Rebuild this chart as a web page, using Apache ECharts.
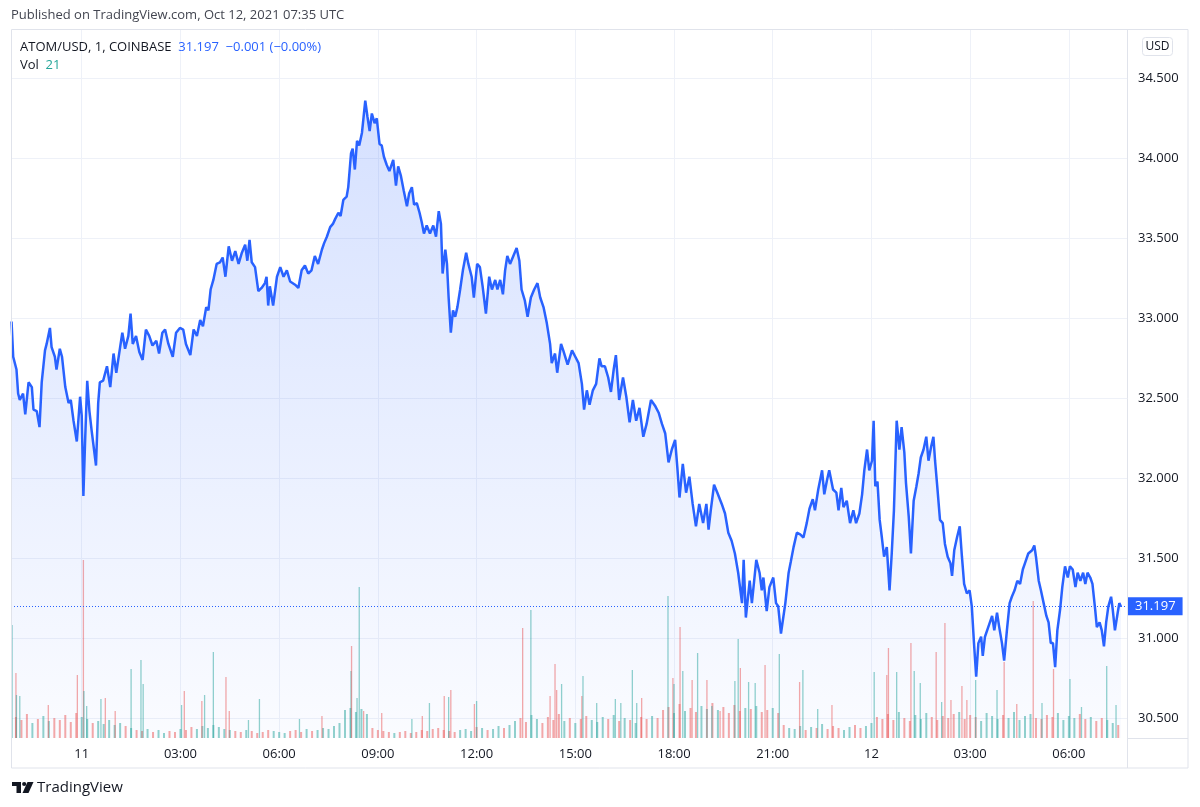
<!DOCTYPE html>
<html><head><meta charset="utf-8">
<script src="https://cdn.jsdelivr.net/npm/echarts@6/dist/echarts.min.js"></script>
<style>html,body{margin:0;padding:0;background:#fff;}#chart{width:1200px;height:807px;}</style>
</head><body><div id="chart"></div>
<script>
// ---- DATA (minutes from 2021-10-11 00:00 UTC, price in USD) ----
const pricePoints = [
[-128,32.98],[-125,32.76],[-119,32.68],[-116,32.53],[-113,32.49],[-107,32.53],[-103,32.40],[-97,32.60],[-91,32.57],[-88,32.43],
[-82,32.42],[-77,32.32],[-73,32.60],[-67,32.80],[-64,32.84],[-58,32.94],[-55,32.82],[-49,32.76],[-46,32.68],[-40,32.81],
[-36,32.76],[-30,32.57],[-24,32.47],[-20,32.49],[-15,32.36],[-9,32.23],[-3,32.51],[0,32.39],[3,31.89],[6,32.22],
[10,32.61],[14,32.42],[18,32.30],[26,32.08],[30,32.47],[33,32.60],[39,32.61],[46,32.70],[52,32.57],[58,32.78],
[63,32.66],[70,32.82],[74,32.91],[79,32.81],[85,32.89],[89,33.03],[93,32.84],[99,32.89],[105,32.79],[111,32.74],
[117,32.93],[123,32.89],[129,32.83],[136,32.86],[141,32.78],[147,32.91],[152,32.93],[158,32.84],[166,32.76],[172,32.91],
[179,32.94],[185,32.93],[190,32.84],[198,32.77],[204,32.93],[210,32.89],[216,32.99],[221,32.95],[227,33.07],[231,33.05],
[235,33.18],[240,33.24],[246,33.34],[252,33.35],[257,33.38],[262,33.26],[268,33.45],[274,33.36],[280,33.42],[286,33.34],
[292,33.41],[298,33.46],[302,33.36],[306,33.49],[310,33.35],[316,33.32],[322,33.17],[328,33.19],[334,33.22],[337,33.26],
[340,33.08],[343,33.20],[349,33.08],[356,33.26],[362,33.32],[368,33.26],[374,33.30],[380,33.23],[389,33.21],[395,33.19],
[401,33.30],[407,33.33],[413,33.28],[419,33.30],[425,33.39],[431,33.34],[438,33.43],[442,33.47],[447,33.51],[453,33.57],
[458,33.59],[462,33.62],[468,33.66],[472,33.64],[477,33.74],[483,33.76],[486,33.82],[491,34.03],[494,34.06],[498,33.93],
[502,34.11],[506,34.08],[511,34.16],[514,34.26],[517,34.36],[521,34.26],[525,34.17],[529,34.28],[534,34.22],[538,34.25],
[543,34.09],[547,34.08],[551,34.01],[556,33.96],[561,33.92],[568,33.99],[573,33.83],[577,33.95],[582,33.89],[587,33.80],
[593,33.70],[597,33.78],[602,33.82],[606,33.71],[611,33.72],[616,33.66],[620,33.60],[624,33.53],[629,33.58],[635,33.53],
[641,33.58],[646,33.51],[651,33.67],[655,33.59],[658,33.28],[663,33.43],[666,33.34],[669,33.13],[673,32.91],[677,33.05],
[681,33.01],[685,33.07],[690,33.18],[695,33.30],[701,33.41],[705,33.34],[711,33.26],[715,33.13],[721,33.34],[726,33.32],
[731,33.20],[737,33.03],[743,33.26],[748,33.18],[754,33.24],[758,33.18],[763,33.24],[768,33.15],[772,33.30],[776,33.39],
[781,33.34],[787,33.39],[793,33.44],[798,33.36],[802,33.18],[808,33.11],[813,33.01],[819,33.13],[825,33.18],[831,33.22],
[836,33.13],[842,33.07],[848,32.97],[854,32.84],[857,32.72],[863,32.78],[867,32.66],[874,32.84],[878,32.80],[886,32.71],
[894,32.80],[900,32.76],[906,32.72],[912,32.59],[916,32.43],[921,32.55],[926,32.46],[932,32.55],[938,32.59],[944,32.75],
[948,32.70],[954,32.70],[960,32.63],[965,32.54],[970,32.68],[974,32.77],[980,32.49],[987,32.63],[993,32.51],[999,32.35],
[1005,32.49],[1011,32.36],[1017,32.44],[1024,32.26],[1030,32.34],[1038,32.49],[1046,32.45],[1052,32.41],[1058,32.34],[1064,32.28],
[1070,32.10],[1076,32.18],[1082,32.24],[1086,32.07],[1090,31.88],[1096,32.09],[1102,31.91],[1108,32.01],[1114,31.84],[1120,31.70],
[1126,31.84],[1133,31.72],[1139,31.84],[1143,31.68],[1147,31.80],[1153,31.96],[1159,31.91],[1167,31.84],[1173,31.78],[1179,31.66],
[1185,31.61],[1191,31.53],[1197,31.41],[1204,31.22],[1207,31.49],[1211,31.13],[1218,31.36],[1222,31.22],[1230,31.49],[1236,31.41],
[1240,31.30],[1243,31.38],[1249,31.17],[1254,31.32],[1261,31.38],[1266,31.22],[1270,31.20],[1275,31.03],[1283,31.22],[1289,31.41],
[1293,31.48],[1298,31.57],[1304,31.66],[1310,31.65],[1316,31.63],[1322,31.72],[1327,31.81],[1333,31.87],[1337,31.80],[1343,31.93],
[1350,32.05],[1354,31.90],[1359,31.99],[1363,32.05],[1370,31.93],[1376,31.91],[1380,31.80],[1385,31.94],[1389,31.82],[1395,31.86],
[1401,31.72],[1407,31.80],[1412,31.72],[1418,31.78],[1423,31.90],[1427,32.05],[1432,32.18],[1436,32.05],[1441,32.11],[1444,32.36],
[1447,31.95],[1451,31.98],[1455,31.74],[1459,31.63],[1463,31.51],[1468,31.57],[1473,31.30],[1477,31.53],[1481,31.80],[1486,32.36],
[1491,32.18],[1495,32.32],[1500,32.16],[1503,31.97],[1508,31.76],[1512,31.53],[1517,31.86],[1522,31.95],[1526,32.03],[1530,32.13],
[1535,32.18],[1540,32.26],[1544,32.11],[1549,32.20],[1553,32.26],[1556,32.11],[1560,31.95],[1565,31.74],[1570,31.72],[1574,31.59],
[1579,31.51],[1584,31.47],[1587,31.39],[1591,31.55],[1596,31.63],[1601,31.70],[1605,31.51],[1609,31.34],[1614,31.28],[1619,31.30],
[1623,31.20],[1627,30.97],[1631,30.76],[1635,30.97],[1640,31.01],[1643,30.89],[1647,31.01],[1653,31.07],[1660,31.14],[1664,31.05],
[1669,31.16],[1673,31.07],[1678,30.97],[1682,30.86],[1687,31.05],[1692,31.22],[1696,31.26],[1701,31.30],[1706,31.36],[1711,31.34],
[1716,31.43],[1720,31.47],[1726,31.53],[1733,31.55],[1737,31.58],[1740,31.51],[1745,31.36],[1749,31.30],[1754,31.22],[1759,31.14],
[1763,31.10],[1767,30.97],[1771,30.97],[1775,30.82],[1779,31.05],[1784,31.18],[1788,31.32],[1793,31.45],[1798,31.38],[1802,31.45],
[1807,31.43],[1812,31.32],[1816,31.41],[1821,31.36],[1826,31.41],[1830,31.34],[1834,31.41],[1839,31.38],[1843,31.34],[1848,31.18],
[1851,31.07],[1856,31.10],[1860,31.05],[1864,30.95],[1868,31.10],[1872,31.20],[1877,31.26],[1880,31.18],[1884,31.05],[1889,31.16],
[1892,31.22],[1895,31.197]
];
const lastPriceText = '31.197';
const lastChangeText = '\u22120.001 (\u22120.00%)';
const lastVolumeText = '21';

const timeTickMinutes = [0,180,360,540,720,900,1080,1260,1440,1620,1800];
const timeTickLabels = ['11','03:00','06:00','09:00','12:00','15:00','18:00','21:00','12','03:00','06:00'];
const priceTicks = [30.5,31,31.5,32,32.5,33,33.5,34,34.5];

// background volume, one value per 10-minute slot starting at -120
const volBaseStart = -120;
const volBaseStep = 10;
const volBaseValues = [
420,360,480,300,380,440,340,400,360,460,320,500,420,
380,300,340,280,360,260,300,240,
200,160,140,180,120,160,100,140,120,180,160,220,180,240,200,260,220,180,160,140,120,160,140,100,120,160,140,120,100,140,160,120,180,140,160,200,180,240,300,
560,600,520,580,480,
200,160,140,120,100,120,140,100,120,160,140,180,200,160,140,120,160,180,140,220,200,160,180,240,200,260,
340,400,320,460,380,300,420,360,480,340,400,300,380,440,360,320,420,380,460,340,400,360,300,420,380,440,400,
560,620,500,680,540,600,520,640,580,700,560,620,500,660,540,600,580,640,520,560,600,500,
260,200,180,240,160,220,200,280,180,240,200,160,220,260,200,240,300,
420,380,480,360,520,400,340,460,380,500,420,360,440,400,480,520,380,460,420,340,500,440,380,460,400,520,360,440,480,400,380,460,420,500,360,440,400,480,380,420,340,400,360,300,260
];
// individual tall volume bars: [minute, volume, direction u/d]
const volSpikes = [
[-127,2260,'u'],[-120,1300,'d'],[-119,860,'u'],[-113,840,'u'],[-61,660,'d'],[-8,1260,'d'],[3,3560,'d'],[4,940,'u'],[9,640,'u'],
[35,780,'u'],[43,800,'d'],[61,540,'d'],[90,1380,'u'],[108,1560,'u'],[112,1080,'u'],[182,660,'u'],[187,940,'d'],[219,740,'d'],
[224,860,'u'],[240,1720,'u'],[263,1220,'d'],[269,540,'d'],[304,360,'u'],[324,780,'u'],[397,380,'u'],[438,440,'d'],[491,1340,'u'],
[492,1840,'d'],[502,800,'u'],[506,3020,'u'],[514,540,'d'],[547,500,'d'],[602,380,'u'],[621,440,'d'],[634,700,'u'],[661,840,'d'],
[669,820,'u'],[673,960,'d'],[716,680,'d'],[720,740,'u'],[804,2200,'d'],[819,2560,'u'],[854,840,'d'],[863,1480,'d'],[866,960,'d'],
[875,1080,'u'],[912,840,'d'],[914,1240,'u'],[939,700,'u'],[973,780,'u'],[983,700,'u'],[1004,1360,'u'],[1012,700,'u'],[1021,800,'d'],
[1069,2840,'u'],[1078,1200,'d'],[1080,1080,'u'],[1091,2220,'d'],[1096,1340,'u'],[1113,1160,'d'],[1123,1700,'u'],[1140,1160,'d'],
[1149,640,'u'],[1164,540,'d'],[1191,1140,'u'],[1197,1980,'u'],[1201,1400,'d'],[1216,1120,'u'],[1228,1100,'u'],[1246,1460,'d'],
[1272,1680,'u'],[1309,1120,'d'],[1315,1360,'u'],[1342,580,'u'],[1368,660,'d'],[1445,1320,'u'],[1468,1260,'d'],[1471,1800,'d'],
[1486,1320,'u'],[1512,1900,'d'],[1518,1340,'u'],[1529,1100,'u'],[1558,1720,'d'],[1568,720,'u'],[1574,2300,'d'],[1585,760,'d'],
[1605,1040,'d'],[1614,760,'d'],[1630,1160,'u'],[1669,960,'u'],[1682,1520,'d'],[1705,680,'d'],[1735,2740,'d'],[1751,700,'u'],
[1772,1380,'d'],[1802,1180,'u'],[1823,620,'u'],[1869,1440,'u'],[1886,660,'u']
];

// ---- CHART ----
const FONT = '"Open Sans", "DejaVu Sans", sans-serif';
const X_MIN = -129, X_MAX = 1906;
const Y_MIN = 30.377, Y_MAX = 34.802;
const UP = 'rgba(38,166,154,0.5)', DOWN = 'rgba(239,83,80,0.5)';
const LINE_BLUE = '#2962ff';

function priceAt(t){
  let p = pricePoints[0][1];
  for (const pt of pricePoints){ if (pt[0] <= t) p = pt[1]; else break; }
  return p;
}
const baseBars = volBaseValues.map((v,i)=>{
  const t = volBaseStart + i*volBaseStep;
  return {value:[t,v], itemStyle:{color: priceAt(t) >= priceAt(t - volBaseStep) ? UP : DOWN}};
});
const spikeBars = volSpikes.map(s=>({value:[s[0],s[1]], itemStyle:{color: s[2]==='u'?UP:DOWN}}));

const gridLines = [];
priceTicks.forEach(v=>gridLines.push({coords:[[X_MIN,v],[X_MAX,v]]}));
timeTickMinutes.forEach(m=>gridLines.push({coords:[[m,Y_MIN],[m,Y_MAX]]}));

const chart = echarts.init(document.getElementById('chart'));
chart.setOption({
  animation:false,
  backgroundColor:'#ffffff',
  grid:[
    {left:11,right:73,top:30,bottom:69},
    {left:11,right:73,top:538,bottom:69},
    {left:11,right:73,top:538,bottom:69}
  ],
  xAxis:[
    {type:'value',gridIndex:0,min:X_MIN,max:X_MAX,axisLine:{show:false},axisTick:{show:false},splitLine:{show:false},
     axisLabel:{customValues:timeTickMinutes,formatter:v=>{const i=timeTickMinutes.indexOf(v);return i>=0?timeTickLabels[i]:'';},
       color:'#131722',fontSize:13,fontFamily:FONT,margin:10}},
    {type:'value',gridIndex:1,min:X_MIN,max:X_MAX,show:false},
    {type:'value',gridIndex:2,min:X_MIN,max:X_MAX,show:false}
  ],
  yAxis:[
    {type:'value',gridIndex:0,position:'right',min:Y_MIN,max:Y_MAX,axisLine:{show:false},axisTick:{show:false},splitLine:{show:false},
     axisLabel:{customValues:priceTicks,formatter:v=>Number(v).toFixed(3),color:'#131722',fontSize:13,fontFamily:FONT,margin:11}},
    {type:'value',gridIndex:1,min:0,max:4000,show:false},
    {type:'value',gridIndex:2,min:0,max:4000,show:false}
  ],
  series:[
    {type:'lines',coordinateSystem:'cartesian2d',xAxisIndex:0,yAxisIndex:0,z:0,silent:true,
     lineStyle:{color:'#eef1f8',width:1,opacity:1},data:gridLines},
    {type:'bar',xAxisIndex:1,yAxisIndex:1,barWidth:2,z:1,silent:true,data:baseBars},
    {type:'bar',xAxisIndex:2,yAxisIndex:2,barWidth:1.3,z:1,silent:true,data:spikeBars},
    {type:'line',xAxisIndex:0,yAxisIndex:0,z:3,data:pricePoints,showSymbol:false,symbol:'none',
     lineStyle:{color:LINE_BLUE,width:2.5},
     areaStyle:{origin:'start',color:new echarts.graphic.LinearGradient(0,0,0,1,[
       {offset:0,color:'rgba(41,98,255,0.28)'},{offset:1,color:'rgba(41,98,255,0.03)'}])},
     markLine:{silent:true,symbol:['none','none'],animation:false,
       lineStyle:{color:LINE_BLUE,type:[1,2],width:1},
       label:{show:true,position:'end',distance:1,formatter:lastPriceText,color:'#ffffff',backgroundColor:LINE_BLUE,
         fontSize:13,fontFamily:FONT,padding:[3,7,2,7]},
       data:[{yAxis:31.197}]}}
  ],
  graphic:[
    {type:'text',left:11,top:9,style:{text:'Published on TradingView.com, Oct 12, 2021 07:35 UTC',fill:'#434651',font:'13px '+FONT}},
    {type:'rect',shape:{x:11.5,y:29.5,width:1176.5,height:738.5},style:{fill:null,stroke:'#e0e3eb',lineWidth:1},silent:true,z:10},
    {type:'line',shape:{x1:1127.5,y1:29.5,x2:1127.5,y2:768},style:{stroke:'#e0e3eb',lineWidth:1},silent:true,z:10},
    {type:'line',shape:{x1:1127.5,y1:738.5,x2:1188,y2:738.5},style:{stroke:'#e0e3eb',lineWidth:1},silent:true,z:10},
    {type:'text',x:20,y:47,style:{text:'{a|ATOM/USD, 1, COINBASE}  {b|'+lastPriceText+'  '+lastChangeText+'}',
      verticalAlign:'middle',rich:{a:{fill:'#131722',font:'13px '+FONT},b:{fill:LINE_BLUE,font:'13px '+FONT}}},z:10},
    {type:'text',x:20,y:65,style:{text:'{a|Vol}  {b|'+lastVolumeText+'}',verticalAlign:'middle',
      rich:{a:{fill:'#131722',font:'13px '+FONT},b:{fill:'#26a69a',font:'13px '+FONT}}},z:10},
    {type:'rect',shape:{x:1142.5,y:37.5,width:30,height:18,r:3},style:{fill:'#ffffff',stroke:'#e0e3eb',lineWidth:1},z:10},
    {type:'text',x:1157.5,y:47,style:{text:'USD',align:'center',verticalAlign:'middle',fill:'#131722',font:'12px '+FONT},z:11},
    // TradingView logo
    {type:'rect',shape:{x:12,y:782,width:9,height:4},style:{fill:'#131722'},z:10},
    {type:'rect',shape:{x:16.5,y:782,width:4.5,height:11},style:{fill:'#131722'},z:10},
    {type:'circle',shape:{cx:24.2,cy:784,r:2.1},style:{fill:'#131722'},z:10},
    {type:'polygon',shape:{points:[[27.5,782],[33.5,782],[28.5,793],[22.5,793]]},style:{fill:'#131722'},z:10},
    {type:'text',x:37,y:788,style:{text:'TradingView',verticalAlign:'middle',fill:'#131722',font:'15px '+FONT},z:10}
  ]
});
</script></body></html>
